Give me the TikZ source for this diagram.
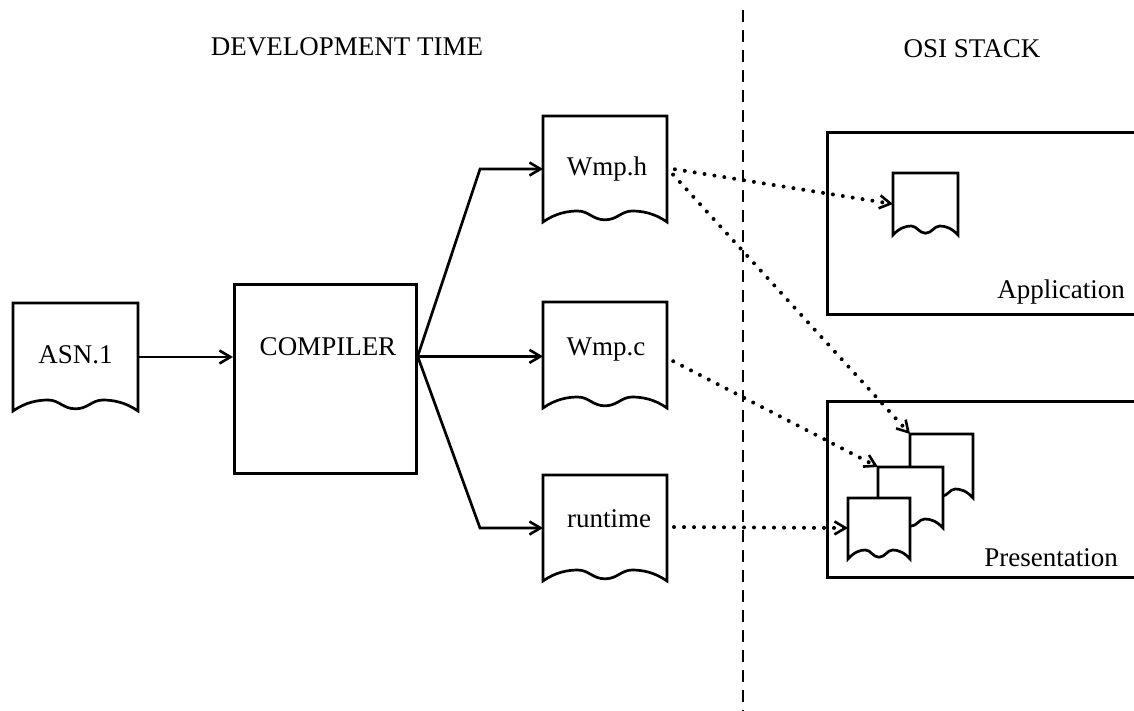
\documentclass[tikz,border=0pt]{standalone}
\usepackage{fontspec}
\setmainfont{Liberation Serif}
\usetikzlibrary{arrows.meta,calc}
\tikzset{
  line/.style={line width=2.7pt, line join=miter},
  arr/.style={line, -{Straight Barb[length=11pt,width=13pt,line width=2.6pt]}},
  dotarr/.style={line width=4pt, line cap=round, dash pattern=on 0pt off 10pt,
     -{Straight Barb[length=11pt,width=13pt,line width=2.6pt]}},
  docnode/.style={minimum width=#1, inner sep=0pt, outer sep=0pt, anchor=north west},
  lbl/.style={font=\fontsize{27}{32}\selectfont, inner sep=0pt, anchor=base},
  frame/.style={line width=2.7pt},
}
\newcommand{\docshape}[2]{%
  \draw[line, fill=white] let \p1=(#1.south west), \p2=(#1.north east), \n1={\x2-\x1} in
   (\p1) -- (\x1,\y2) -- (\p2) -- (\x2,\y1)
   .. controls ({\x2-0.1*\n1},{\y1+0.8*#2}) and ({\x2-0.2*\n1},{\y1+#2}) .. ({\x2-0.28*\n1},{\y1+#2})
   .. controls ({\x2-0.37*\n1},{\y1+#2}) and ({\x1+0.6*\n1},{\y1+0.2*#2}) .. ({\x1+0.5*\n1},{\y1+0.2*#2})
   .. controls ({\x1+0.4*\n1},{\y1+0.2*#2}) and ({\x1+0.37*\n1},{\y1+#2}) .. ({\x1+0.28*\n1},{\y1+#2})
   .. controls ({\x1+0.2*\n1},{\y1+#2}) and ({\x1+0.1*\n1},{\y1+0.8*#2}) .. (\p1) -- cycle;
}
\begin{document}
\begin{tikzpicture}[x=1pt,y=-1pt]
\path[use as bounding box, clip] (0,0) rectangle (1134,710);
\fill[white] (0,0) rectangle (1134,710);

% headings
\node[lbl] (hdev) at (347,55) {DEVELOPMENT TIME};
\node[lbl] (hosi) at (972,57) {OSI STACK};

% divider
\coordinate (divtop) at (743,10);
\coordinate (divbot) at (743,712);
\draw[line width=2.8pt, dash pattern=on 12pt off 8pt] (divtop) -- (divbot);

% OSI boxes (open on the right, cut by the page edge)
\node[draw, frame, anchor=north west, minimum width=340pt, minimum height=182pt, inner sep=0pt] (appbox) at (826,131) {};
\node[draw, frame, anchor=north west, minimum width=340pt, minimum height=176pt, inner sep=0pt] (prebox) at (826,400) {};
\node[lbl, anchor=base east] (applbl) at (1125,298) {Application};
\node[lbl, anchor=base east] (prelbl) at (1118,566) {Presentation};

% documents (development side)
\node[docnode=125pt, minimum height=108pt] (asn) at (13,303) {};
\node[docnode=124pt, minimum height=106pt] (wmph) at (543,116) {};
\node[docnode=124pt, minimum height=106pt] (wmpc) at (543,302) {};
\node[docnode=124pt, minimum height=106pt] (rt) at (543,475) {};
\docshape{asn}{11pt}
\docshape{wmph}{11pt}
\docshape{wmpc}{11pt}
\docshape{rt}{11pt}
\node[lbl] (asnlbl) at (75.5,363) {ASN.1};
\node[lbl] (wmphlbl) at (607,175) {Wmp.h};
\node[lbl] (wmpclbl) at (606,355) {Wmp.c};
\node[lbl] (rtlbl) at (609,527) {runtime};

% compiler
\node[draw, line, anchor=north west, minimum width=182pt, minimum height=189pt, inner sep=0pt] (comp) at (233,283) {};
\node[lbl] (complbl) at (328,355) {COMPILER};

% documents (OSI side)
\node[docnode=65pt, minimum height=62pt] (appdoc) at (893,173) {};
\node[docnode=63pt, minimum height=64pt] (pdocA) at (910,434) {};
\node[docnode=65pt, minimum height=61pt] (pdocB) at (878,467) {};
\node[docnode=62pt, minimum height=61pt] (pdocC) at (848,498) {};
\docshape{appdoc}{9pt}
\docshape{pdocA}{9pt}
\docshape{pdocB}{9pt}
\docshape{pdocC}{9pt}

% solid connectors
\draw[arr] (asn.east) -- (asn.east -| comp.west);
\coordinate (fan) at ([yshift=22.5pt]comp.east);
\draw[arr] (fan) -- ([xshift=-63pt]wmph.west) -- (wmph.west);
\draw[arr] (fan) -- (fan -| wmpc.west);
\draw[arr] (fan) -- ([xshift=-63pt]rt.west) -- (rt.west);

% dotted connectors
\draw[dotarr, shorten <=8pt] ([yshift=1pt]wmph.east) -- (appdoc.west);
\draw[dotarr, shorten <=9pt] ([yshift=1pt]wmph.east) -- (pdocA.north west);
\draw[dotarr, shorten <=7pt] ([yshift=-3pt]wmpc.east) -- (pdocB.north west);
\draw[dotarr, shorten <=7pt] ([yshift=1pt]rt.east) -- (rt.east -| pdocC.west);
\end{tikzpicture}
\end{document}
